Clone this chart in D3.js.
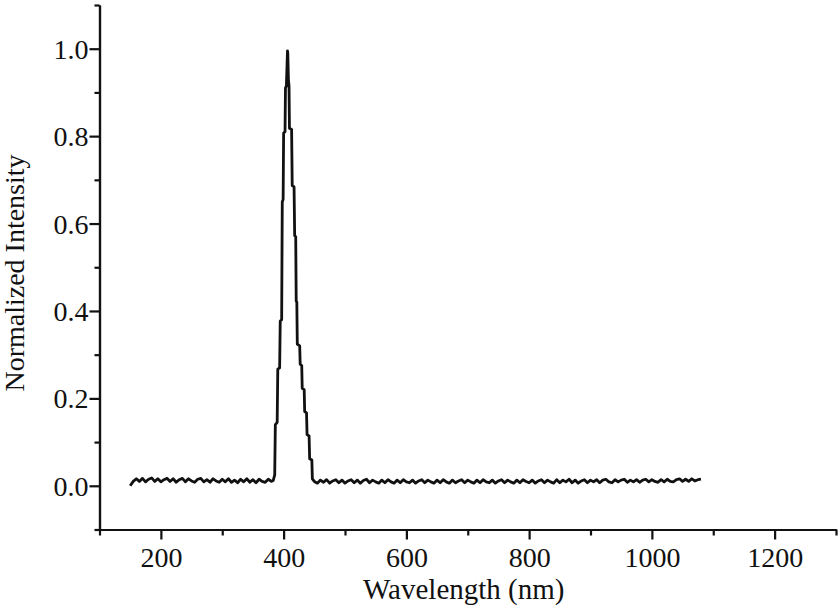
<!DOCTYPE html>
<html lang="en">
<head>
<meta charset="utf-8">
<title>Normalized Intensity</title>
<script src="https://d3js.org/d3.v7.min.js"></script>
<style>
  body { margin: 0; background: #fff; }
  text { font-family: "Liberation Serif", "DejaVu Serif", serif; fill: #111; }
</style>
</head>
<body>
<div id="chart"></div>
<script>
// baseline left of the peak, one value every 5 nm from 150 nm
const leftStart = 150, leftStep = 5;
const leftBaseline = [
  0.000, 0.010, 0.016, 0.010, 0.017, 0.009, 0.015, 0.018, 0.010, 0.016,
  0.009, 0.014, 0.017, 0.010, 0.016, 0.008, 0.014, 0.017, 0.009, 0.016,
  0.011, 0.008, 0.015, 0.017, 0.009, 0.014, 0.008, 0.016, 0.011, 0.008,
  0.015, 0.009, 0.016, 0.008, 0.013, 0.007, 0.015, 0.009, 0.016, 0.008,
  0.014, 0.007, 0.015, 0.010, 0.008, 0.015, 0.010
];

// peak, read point by point
const peakWl = [383, 385.5, 386.5, 389.5, 390.5, 393.5, 394.5, 396.8, 397.8, 399.2,
  400, 402.3, 403, 404.5, 406.3, 406.8, 407.8, 408.8, 409.5, 413,
  414, 417, 418, 419.7, 420.5, 421.5, 422.3, 426.2, 427, 429.5,
  430.3, 433.5, 434.3, 437.3, 438.2, 441.5, 442.4, 446, 446.8, 450];
const peakI = [0.012, 0.025, 0.14, 0.145, 0.267, 0.27, 0.377, 0.38, 0.65, 0.655,
  0.807, 0.81, 0.91, 0.915, 0.995, 0.99, 0.93, 0.915, 0.818, 0.815,
  0.687, 0.684, 0.572, 0.57, 0.423, 0.42, 0.324, 0.32, 0.278, 0.275,
  0.223, 0.22, 0.17, 0.167, 0.117, 0.114, 0.062, 0.059, 0.016, 0.010];

// baseline right of the peak, one value every 5 nm from 455 nm
const rightStart = 455, rightStep = 5;
const rightBaseline = [
  0.006, 0.013, 0.008, 0.014, 0.006, 0.011, 0.014, 0.007, 0.013, 0.006,
  0.011, 0.014, 0.007, 0.013, 0.006, 0.012, 0.015, 0.007, 0.013, 0.009,
  0.006, 0.013, 0.007, 0.014, 0.009, 0.006, 0.013, 0.007, 0.014, 0.009,
  0.007, 0.013, 0.006, 0.011, 0.014, 0.007, 0.013, 0.009, 0.006, 0.013,
  0.007, 0.014, 0.009, 0.006, 0.013, 0.007, 0.011, 0.014, 0.007, 0.013,
  0.009, 0.006, 0.013, 0.007, 0.014, 0.009, 0.007, 0.013, 0.006, 0.011,
  0.014, 0.007, 0.013, 0.009, 0.006, 0.013, 0.007, 0.014, 0.010, 0.007,
  0.013, 0.006, 0.011, 0.014, 0.007, 0.013, 0.009, 0.006, 0.014, 0.007,
  0.013, 0.009, 0.015, 0.007, 0.013, 0.006, 0.011, 0.014, 0.007, 0.013,
  0.009, 0.014, 0.007, 0.013, 0.015, 0.009, 0.007, 0.014, 0.009, 0.013,
  0.015, 0.008, 0.013, 0.009, 0.014, 0.008, 0.013, 0.015, 0.009, 0.014,
  0.010, 0.008, 0.014, 0.009, 0.015, 0.010, 0.009, 0.014, 0.016, 0.010,
  0.015, 0.010, 0.016, 0.011, 0.014, 0.015
];

const xMajor = [200, 400, 600, 800, 1000, 1200];
const xMinor = [100, 300, 500, 700, 900, 1100, 1300];
const yMajor = [0.0, 0.2, 0.4, 0.6, 0.8, 1.0];
const yMinor = [-0.1, 0.1, 0.3, 0.5, 0.7, 0.9, 1.1];

// put the spectrum together
const data = [];
leftBaseline.forEach((v, i) => data.push({ wl: leftStart + i * leftStep, v: v }));
peakWl.forEach((w, i) => data.push({ wl: w, v: peakI[i] }));
rightBaseline.forEach((v, i) => data.push({ wl: rightStart + i * rightStep, v: v }));

const width = 839, height = 609;
const svg = d3.select("#chart").append("svg")
  .attr("width", width)
  .attr("height", height);

const x = d3.scaleLinear().domain([100, 1300]).range([99.5, 836]);
const y = d3.scaleLinear().domain([-0.1, 1.1]).range([529.5, 5]);

// minor ticks first, then major ticks with labels
svg.append("g")
  .attr("transform", "translate(0," + y(-0.1) + ")")
  .call(d3.axisBottom(x).tickValues(xMinor).tickSize(6).tickSizeOuter(0).tickFormat(""));
svg.append("g")
  .attr("class", "x axis")
  .attr("transform", "translate(0," + y(-0.1) + ")")
  .call(d3.axisBottom(x).tickValues(xMajor).tickSize(10).tickSizeOuter(0).tickFormat(d3.format("d")));

svg.append("g")
  .attr("transform", "translate(" + x(100) + ",0)")
  .call(d3.axisLeft(y).tickValues(yMinor).tickSize(5).tickSizeOuter(0).tickFormat(""));
svg.append("g")
  .attr("class", "y axis")
  .attr("transform", "translate(" + x(100) + ",0)")
  .call(d3.axisLeft(y).tickValues(yMajor).tickSize(10).tickSizeOuter(0).tickFormat(d3.format(".1f")));

svg.selectAll(".domain, .tick line")
  .attr("stroke", "#111")
  .attr("stroke-width", 2.2);

svg.selectAll(".x.axis .tick text")
  .attr("y", 37)
  .attr("dy", 0)
  .style("font-size", "28px");
svg.selectAll(".y.axis .tick text")
  .attr("x", -11)
  .attr("dy", "0.34em")
  .style("font-size", "28px");

// spectrum line
const line = d3.line()
  .x(d => x(d.wl))
  .y(d => y(d.v));

svg.append("path")
  .datum(data)
  .attr("fill", "none")
  .attr("stroke", "#111")
  .attr("stroke-width", 2.8)
  .attr("stroke-linejoin", "round")
  .attr("d", line);

// axis titles
svg.append("text")
  .attr("x", (x(100) + x(1300)) / 2 - 4)
  .attr("y", 599)
  .attr("text-anchor", "middle")
  .style("font-size", "29px")
  .text("Wavelength (nm)");

svg.append("text")
  .attr("transform", "translate(24," + 273 + ") rotate(-90)")
  .attr("text-anchor", "middle")
  .style("font-size", "28px")
  .text("Normalized Intensity");
</script>
</body>
</html>
